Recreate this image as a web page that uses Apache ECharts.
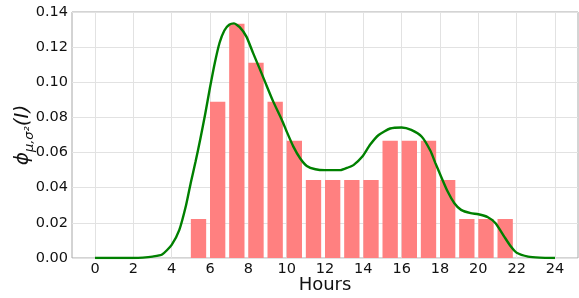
<!DOCTYPE html>
<html>
<head>
<meta charset="utf-8">
<script src="https://cdn.jsdelivr.net/npm/echarts@6/dist/echarts.min.js"></script>
<style>
  html, body { margin: 0; padding: 0; background: #fff; }
  #chart { width: 579px; height: 298px; }
</style>
</head>
<body>
<div id="chart"></div>
<script>
// bar heights per hour (share of visits)
const hours = [5, 6, 7, 8, 9, 10, 11, 12, 13, 14, 15, 16, 17, 18, 19, 20, 21]
const shares = [0.0222, 0.0889, 0.1333, 0.1111, 0.0889, 0.0667, 0.0444, 0.0444, 0.0444,
  0.0444, 0.0667, 0.0667, 0.0667, 0.0444, 0.0222, 0.0222, 0.0222]

// density curve
const curveX = [0, 1, 2, 2.5, 3, 3.5, 4, 4.4, 4.75, 5, 5.25, 5.5, 5.75, 6, 6.25, 6.5, 6.75,
  7, 7.25, 7.55, 7.9, 8.25, 8.6, 8.9, 9.3, 9.75, 10, 10.35, 10.7, 11.05, 11.5, 12, 12.8,
  13.2, 13.5, 13.95, 14.35, 14.8, 15.4, 16, 16.5, 17.05, 17.5, 17.76, 18, 18.4, 18.75,
  19.1, 19.6, 20, 20.5, 20.9, 21.35, 21.7, 22, 22.6, 23.2, 24]
const curveY = [0, 0, 0, 0.0002, 0.0008, 0.002, 0.0075, 0.016, 0.030, 0.043, 0.055, 0.068,
  0.082, 0.097, 0.111, 0.1225, 0.1295, 0.1327, 0.1335, 0.1314, 0.126, 0.1166, 0.1075,
  0.0995, 0.089, 0.0786, 0.072, 0.0634, 0.0568, 0.0524, 0.0505, 0.0500, 0.0500, 0.0515,
  0.053, 0.0577, 0.0644, 0.070, 0.0737, 0.0743, 0.0729, 0.069, 0.061, 0.054, 0.0478,
  0.0378, 0.0312, 0.0274, 0.0255, 0.0249, 0.0232, 0.0198, 0.0122, 0.0065, 0.003, 0.0008,
  0.0002, 0]

const xTicks = [0, 2, 4, 6, 8, 10, 12, 14, 16, 18, 20, 22, 24]
const barSpan = 0.8

const font = 'DejaVu Sans'
const myChart = echarts.init(document.getElementById('chart'), null, {renderer: 'canvas'})

myChart.setOption({
  animation: false,
  grid: {
    left: 72, right: 1, top: 12, bottom: 40,
    outerBoundsMode: 'none',
    containLabel: false,
    show: true, borderColor: '#a8a8a8', borderWidth: 1
  },
  xAxis: {
    type: 'value',
    min: -1.2,
    max: 25.2,
    name: 'Hours',
    nameLocation: 'middle',
    nameGap: 18,
    nameMoveOverlap: false,
    nameTextStyle: {fontFamily: font, fontSize: 18, color: '#111', verticalAlign: 'top'},
    axisLine: {show: false},
    axisTick: {show: false, customValues: xTicks},
    axisLabel: {customValues: xTicks, fontFamily: font, fontSize: 14.5, color: '#111', margin: 4},
    splitLine: {show: true, lineStyle: {color: '#e2e2e2', width: 1}}
  },
  yAxis: {
    type: 'value',
    min: 0,
    max: 0.14,
    interval: 0.02,
    name: '{phi|ϕ}{sub|μ,σ²}{phi|(I)}',
    nameLocation: 'middle',
    nameRotate: 90,
    nameGap: 36,
    nameMoveOverlap: false,
    nameTextStyle: {
      rich: {
        phi: {fontFamily: font, fontStyle: 'italic', fontSize: 20, color: '#111', lineHeight: 26},
        sub: {fontFamily: font, fontStyle: 'italic', fontSize: 13, color: '#111', verticalAlign: 'bottom', lineHeight: 26}
      }
    },
    axisLine: {show: false},
    axisTick: {show: false},
    axisLabel: {
      fontFamily: font, fontSize: 14.5, color: '#111', margin: 4,
      formatter: v => v.toFixed(2)
    },
    splitLine: {show: true, lineStyle: {color: '#e2e2e2', width: 1}}
  },
  series: [
    {
      // bars start at the hour and span 0.8 h
      type: 'custom',
      data: hours.map((h, i) => [h, shares[i]]),
      renderItem: function (params, api) {
        const p0 = api.coord([api.value(0), api.value(1)])
        const p1 = api.coord([api.value(0) + barSpan, 0])
        return {
          type: 'rect',
          shape: {x: p0[0], y: p0[1], width: p1[0] - p0[0], height: p1[1] - p0[1]},
          style: {fill: '#ff8080'}
        }
      },
      z: 2
    },
    {
      type: 'line',
      data: curveX.map((x, i) => [x, curveY[i]]),
      smooth: 0.2,
      showSymbol: false,
      lineStyle: {color: '#008000', width: 2.4},
      z: 3
    }
  ]
})
</script>
</body>
</html>
